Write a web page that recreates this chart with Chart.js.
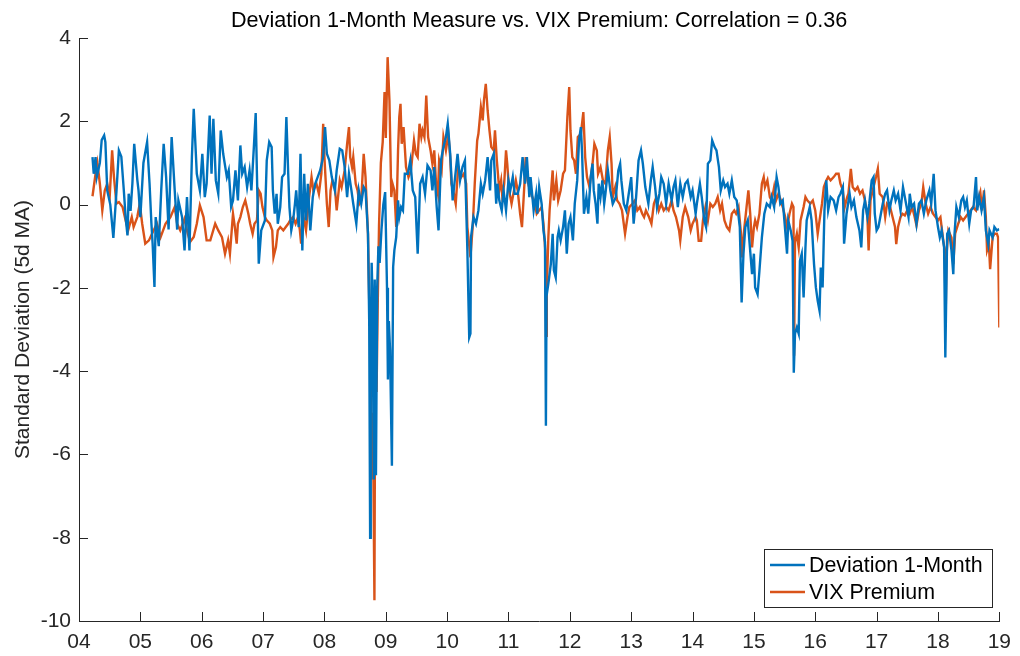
<style>body { margin: 0; }</style>
<script src="https://cdn.jsdelivr.net/npm/chart.js"></script>
<div style="width:1020px;height:656px">
    <canvas id="lineChart" width="1020" height="656"></canvas>
</div>

<script>
    const title = 'Deviation 1-Month Measure vs. VIX Premium: Correlation = 0.36'
    const yLabel = 'Standard Deviation (5d MA)'
    const seriesNames = ['Deviation 1-Month', 'VIX Premium']
    const xTicks = [4, 5, 6, 7, 8, 9, 10, 11, 12, 13, 14, 15, 16, 17, 18, 19]
    const yTicks = [-10, -8, -6, -4, -2, 0, 2, 4]

    // Deviation 1-Month (year since 2000, value)
    const devYears = [
        4.22, 4.24, 4.27, 4.29, 4.34, 4.37, 4.41, 4.43, 4.46, 4.51, 4.56, 4.61, 4.65, 4.69, 4.73, 4.76, 4.79, 4.81, 4.84, 4.87,
        4.9, 4.95, 4.97, 5.0, 5.05, 5.11, 5.15, 5.18, 5.2, 5.23, 5.25, 5.3, 5.34, 5.38, 5.42, 5.46, 5.51, 5.56, 5.6, 5.62,
        5.68, 5.72, 5.76, 5.8, 5.84, 5.87, 5.92, 5.97, 6.01, 6.05, 6.08, 6.13, 6.16, 6.19, 6.23, 6.27, 6.31, 6.35, 6.41, 6.44,
        6.48, 6.51, 6.55, 6.59, 6.63, 6.66, 6.7, 6.74, 6.78, 6.81, 6.85, 6.88, 6.9, 6.93, 6.97, 7.03, 7.06, 7.1, 7.14, 7.16,
        7.19, 7.22, 7.24, 7.28, 7.31, 7.35, 7.38, 7.41, 7.43, 7.46, 7.49, 7.52, 7.54, 7.58, 7.61, 7.64, 7.67, 7.7, 7.73, 7.77,
        7.81, 7.85, 7.89, 7.93, 7.98, 8.01, 8.04, 8.08, 8.12, 8.17, 8.2, 8.25, 8.29, 8.33, 8.37, 8.4, 8.44, 8.47, 8.52, 8.56,
        8.6, 8.64, 8.67, 8.71, 8.73, 8.745, 8.755, 8.77, 8.78, 8.795, 8.805, 8.82, 8.84, 8.86, 8.88, 8.9, 8.93, 8.96, 8.99, 9.02,
        9.035, 9.05, 9.07, 9.1, 9.12, 9.14, 9.17, 9.2, 9.22, 9.25, 9.28, 9.31, 9.36, 9.4, 9.44, 9.48, 9.52, 9.56, 9.6, 9.64,
        9.68, 9.73, 9.76, 9.79, 9.83, 9.86, 9.9, 9.94, 9.98, 10.01, 10.05, 10.09, 10.13, 10.17, 10.21, 10.25, 10.29, 10.33, 10.36, 10.38,
        10.39, 10.43, 10.47, 10.51, 10.55, 10.58, 10.62, 10.66, 10.7, 10.72, 10.76, 10.8, 10.82, 10.85, 10.89, 10.92, 10.96, 11.0, 11.03, 11.07,
        11.1, 11.15, 11.19, 11.23, 11.27, 11.3, 11.34, 11.36, 11.41, 11.45, 11.47, 11.5, 11.54, 11.57, 11.595, 11.61, 11.62, 11.65, 11.69, 11.72,
        11.74, 11.77, 11.8, 11.82, 11.85, 11.89, 11.92, 11.95, 11.98, 12.01, 12.05, 12.08, 12.12, 12.15, 12.18, 12.2, 12.23, 12.27, 12.3, 12.34,
        12.37, 12.39, 12.42, 12.45, 12.47, 12.5, 12.53, 12.56, 12.58, 12.62, 12.66, 12.7, 12.75, 12.79, 12.82, 12.84, 12.88, 12.92, 12.96, 13.0,
        13.04, 13.08, 13.12, 13.16, 13.19, 13.23, 13.28, 13.32, 13.35, 13.39, 13.42, 13.46, 13.49, 13.53, 13.57, 13.61, 13.66, 13.69, 13.72, 13.76,
        13.8, 13.84, 13.88, 13.92, 13.97, 14.0, 14.05, 14.07, 14.12, 14.15, 14.19, 14.22, 14.25, 14.29, 14.32, 14.36, 14.39, 14.43, 14.46, 14.5,
        14.53, 14.57, 14.6, 14.64, 14.68, 14.72, 14.77, 14.8, 14.83, 14.86, 14.9, 14.93, 14.97, 15.0, 15.02, 15.06, 15.09, 15.13, 15.17, 15.21,
        15.26, 15.29, 15.33, 15.37, 15.4, 15.43, 15.47, 15.51, 15.54, 15.56, 15.6, 15.63, 15.65, 15.67, 15.7, 15.73, 15.75, 15.78, 15.81, 15.84,
        15.86, 15.91, 15.94, 15.98, 16.01, 16.04, 16.07, 16.09, 16.12, 16.15, 16.18, 16.21, 16.25, 16.3, 16.34, 16.38, 16.41, 16.45, 16.47, 16.51,
        16.56, 16.59, 16.63, 16.67, 16.72, 16.75, 16.78, 16.81, 16.85, 16.88, 16.92, 16.95, 16.97, 17.0, 17.03, 17.06, 17.1, 17.14, 17.17, 17.21,
        17.24, 17.28, 17.31, 17.35, 17.39, 17.43, 17.48, 17.52, 17.54, 17.57, 17.61, 17.65, 17.69, 17.73, 17.77, 17.81, 17.86, 17.89, 17.93, 17.96,
        18.0, 18.03, 18.06, 18.1, 18.12, 18.15, 18.18, 18.22, 18.25, 18.27, 18.3, 18.34, 18.38, 18.41, 18.44, 18.47, 18.51, 18.54, 18.58, 18.62,
        18.64, 18.67, 18.71, 18.75, 18.78, 18.82, 18.84, 18.89, 18.92, 18.96, 19.0
    ]
    const devValues = [
        1.14, 0.74, 1.14, 0.66, 1.0, 1.55, 1.66, 1.5, 0.34, 0.0, -0.8, 0.3, 1.3, 1.15, 0.35, -0.3, -0.74, 0.26, -0.15, 0.5,
        1.46, 0.6, 0.34, -0.3, 1.0, 1.5, 0.5, -0.45, -0.94, -1.98, -0.3, -1.0, 0.34, 1.46, 0.66, -0.6, 1.62, 0.34, -0.6, 0.1,
        -0.3, -1.1, 0.18, -1.1, 1.14, 2.3, 0.74, 0.34, 1.22, 0.18, 0.5, 2.14, 0.74, 2.06, 0.58, 0.26, 1.78, 1.22, 0.66, 0.82,
        -0.05, 0.1, 0.82, 0.1, 1.42, 0.74, 0.9, 0.42, 0.82, 0.34, 1.38, 2.2, 0.74, -1.42, -0.62, -0.38, 1.06, 1.5, 1.38, 0.34,
        -0.22, 0.26, -0.46, -0.06, 0.66, 0.74, 2.1, 0.74, -0.06, -0.62, -0.38, 0.02, 0.34, -0.54, 1.22, -1.1, 0.74, -0.38, 0.5, -0.62,
        0.18, 0.5, 0.66, 0.82, 1.14, 1.86, 1.22, 1.06, 0.66, 0.34, 0.82, 1.34, 1.3, 0.9, 0.18, 0.74, 0.34, 0.02, -0.46, 0.34,
        0.02, 0.42, 0.34, -0.7, -2.8, -8.0, -3.5, -1.4, -2.0, -4.5, -6.6, -1.8, -6.5, -2.0, -1.0, -1.4, -0.6, 0.0, 0.3, -2.0,
        -4.2, -2.8, -3.5, -6.27, -1.5, -1.1, -0.78, 0.1, -0.3, -0.06, -0.14, 0.74, 0.74, 1.06, 0.34, 0.18, -1.18, 0.5, 0.66, 0.26,
        0.94, 0.82, 0.34, 0.9, -0.06, -0.62, 1.06, 1.38, 1.62, 1.94, 1.22, 0.1, 0.66, 1.22, 0.58, 0.9, 1.06, -1.1, -3.19, -3.1,
        -0.78, -0.3, -0.46, -0.14, 0.5, 0.26, 0.58, 1.14, 0.34, 1.06, 1.22, 0.02, 0.5, 0.1, -0.14, 0.34, -0.14, 0.58, 0.34, 0.66,
        0.26, 0.26, 0.5, 1.14, 0.5, 1.14, 0.18, 0.66, -0.14, 0.26, -0.22, 0.42, 0.02, -0.62, -0.9, -5.31, -2.2, -1.9, -1.43, -0.7,
        -1.58, -1.75, -0.78, -0.62, -0.86, -0.54, -0.14, -1.18, -0.46, -0.3, -0.86, 0.02, 0.58, 1.54, 1.86, 1.22, -0.22, 0.18, -0.22, 0.66,
        0.98, 0.34, 0.02, -0.46, 0.5, 0.18, 0.58, 0.02, 0.26, 0.82, 0.34, 0.02, 0.18, 0.82, 0.98, 0.58, 0.02, -0.14, 0.26, 0.66,
        -0.46, 0.18, 1.06, 1.3, 0.98, 0.42, 0.02, 0.58, 0.9, 0.42, -0.06, 0.26, 0.66, 0.5, 0.02, 0.5, 0.1, 0.42, 0.58, -0.06,
        0.5, 0.18, 0.5, 0.58, 0.18, 0.34, -0.22, 0.02, 0.5, 0.18, -0.38, -0.54, 0.98, 1.06, 1.54, 1.38, 1.3, 0.9, 0.34, 0.58,
        0.42, 0.5, 0.26, 0.58, 0.18, 0.1, -0.54, -2.35, -1.18, -0.54, -0.38, -0.94, -1.67, -1.18, -1.99, -2.15, -1.59, -0.79, -0.22, 0.02,
        -0.06, 0.18, -0.06, 0.66, 0.42, 0.02, 0.1, -0.62, -1.18, -0.38, -0.62, -0.87, -4.04, -3.1, -2.95, -3.1, -1.35, -1.18, -2.23, -1.03,
        -0.38, -0.06, -0.38, -1.43, -1.99, -2.31, -2.55, -1.51, -1.99, -0.14, 0.58, -0.14, 0.18, 0.1, -0.14, 0.18, 0.26, 0.42, -0.94, -0.22,
        0.26, -0.06, 0.1, -0.3, -0.62, -1.03, -0.14, 0.1, -0.3, 0.02, 0.58, 0.66, -0.22, -0.62, -0.54, -0.3, 0.02, 0.26, 0.34, -0.14,
        0.1, 0.34, 0.1, 0.26, -0.14, 0.42, 0.02, -0.3, 0.26, -0.06, 0.02, -0.46, 0.02, 0.1, -0.22, 0.1, 0.34, 0.02, 0.74, -0.14,
        -0.54, -0.79, -0.62, -1.03, -3.67, -0.7, -0.62, -1.1, -1.67, -0.7, -0.06, -0.3, 0.1, 0.18, -0.06, 0.1, -0.46, -0.14, -0.06, 0.66,
        -0.14, 0.18, -0.14, 0.18, -0.62, -0.95, -0.62, -0.79, -0.54, -0.62, -0.59
    ]

    // VIX Premium (year since 2000, value)
    const vixYears = [
        4.22, 4.27, 4.3, 4.34, 4.38, 4.42, 4.46, 4.5, 4.54, 4.57, 4.61, 4.65, 4.71, 4.76, 4.8, 4.86, 4.89, 4.95, 4.99, 5.03,
        5.08, 5.14, 5.19, 5.27, 5.33, 5.41, 5.49, 5.56, 5.6, 5.65, 5.72, 5.76, 5.81, 5.87, 5.92, 5.97, 6.03, 6.08, 6.14, 6.22,
        6.27, 6.33, 6.38, 6.43, 6.46, 6.51, 6.54, 6.57, 6.59, 6.63, 6.67, 6.71, 6.76, 6.79, 6.83, 6.86, 6.9, 6.93, 6.96, 6.99,
        7.03, 7.06, 7.11, 7.15, 7.17, 7.21, 7.24, 7.28, 7.33, 7.37, 7.41, 7.44, 7.49, 7.53, 7.57, 7.6, 7.62, 7.66, 7.7, 7.75,
        7.79, 7.82, 7.87, 7.91, 7.95, 7.98, 8.0, 8.04, 8.07, 8.1, 8.13, 8.17, 8.2, 8.25, 8.28, 8.33, 8.37, 8.4, 8.42, 8.45,
        8.47, 8.51, 8.54, 8.57, 8.6, 8.64, 8.67, 8.71, 8.73, 8.75, 8.77, 8.79, 8.8, 8.815, 8.83, 8.85, 8.87, 8.89, 8.92, 8.95,
        8.98, 9.0, 9.03, 9.06, 9.09, 9.11, 9.14, 9.17, 9.2, 9.22, 9.24, 9.26, 9.29, 9.33, 9.37, 9.41, 9.46, 9.49, 9.52, 9.55,
        9.58, 9.6, 9.63, 9.66, 9.69, 9.73, 9.76, 9.79, 9.82, 9.85, 9.87, 9.91, 9.94, 9.98, 10.02, 10.05, 10.07, 10.11, 10.14, 10.18,
        10.23, 10.27, 10.31, 10.33, 10.38, 10.42, 10.45, 10.49, 10.51, 10.55, 10.58, 10.6, 10.63, 10.66, 10.69, 10.72, 10.76, 10.78, 10.81, 10.85,
        10.88, 10.9, 10.93, 10.96, 10.98, 11.01, 11.05, 11.09, 11.12, 11.15, 11.19, 11.22, 11.26, 11.28, 11.31, 11.35, 11.39, 11.43, 11.46, 11.5,
        11.54, 11.57, 11.6, 11.612, 11.625, 11.65, 11.67, 11.72, 11.74, 11.78, 11.81, 11.85, 11.89, 11.92, 11.96, 11.99, 12.01, 12.04, 12.07, 12.1,
        12.13, 12.18, 12.22, 12.25, 12.28, 12.32, 12.37, 12.4, 12.44, 12.46, 12.5, 12.54, 12.58, 12.62, 12.65, 12.68, 12.7, 12.74, 12.77, 12.81,
        12.85, 12.9, 12.94, 12.97, 13.02, 13.06, 13.1, 13.14, 13.18, 13.21, 13.24, 13.29, 13.33, 13.37, 13.41, 13.45, 13.49, 13.53, 13.57, 13.61,
        13.66, 13.69, 13.73, 13.78, 13.8, 13.84, 13.88, 13.93, 13.97, 14.0, 14.05, 14.07, 14.1, 14.14, 14.17, 14.21, 14.25, 14.29, 14.33, 14.37,
        14.41, 14.45, 14.48, 14.52, 14.56, 14.6, 14.64, 14.68, 14.71, 14.75, 14.79, 14.81, 14.84, 14.88, 14.91, 14.94, 14.97, 15.0, 15.02, 15.05,
        15.09, 15.13, 15.16, 15.18, 15.22, 15.26, 15.29, 15.33, 15.36, 15.4, 15.44, 15.47, 15.51, 15.54, 15.58, 15.62, 15.645, 15.655, 15.67, 15.7,
        15.73, 15.76, 15.81, 15.84, 15.87, 15.92, 15.96, 16.0, 16.04, 16.07, 16.11, 16.14, 16.18, 16.21, 16.25, 16.3, 16.34, 16.38, 16.41, 16.45,
        16.48, 16.52, 16.54, 16.58, 16.61, 16.65, 16.69, 16.73, 16.77, 16.81, 16.85, 16.87, 16.9, 16.95, 16.99, 17.02, 17.05, 17.1, 17.14, 17.17,
        17.22, 17.26, 17.3, 17.32, 17.35, 17.39, 17.42, 17.46, 17.5, 17.54, 17.58, 17.62, 17.65, 17.69, 17.73, 17.76, 17.8, 17.84, 17.88, 17.92,
        17.96, 18.0, 18.04, 18.08, 18.11, 18.125, 18.14, 18.17, 18.22, 18.25, 18.28, 18.33, 18.37, 18.41, 18.45, 18.49, 18.53, 18.57, 18.62, 18.65,
        18.69, 18.72, 18.75, 18.78, 18.8, 18.83, 18.85, 18.89, 18.92, 18.96, 18.98, 19.0
    ]
    const vixValues = [
        0.2, 0.74, 1.0, 0.5, -0.14, 0.34, 0.5, 0.18, 1.3, 0.66, 0.02, 0.06, -0.06, -0.38, -0.62, -0.3, -0.54, -0.3, 0.02, -0.46,
        -0.94, -0.86, -0.7, -0.46, -0.78, -0.46, -0.3, -0.06, -0.46, -0.62, -0.34, -0.62, -0.9, -0.78, -0.46, -0.02, -0.3, -0.86, -0.86, -0.46,
        -0.62, -0.78, -1.18, -0.86, -1.18, -0.22, -0.54, -0.94, -0.46, -0.3, -0.06, 0.1, -0.22, -0.46, -0.7, -0.46, -0.38, 0.34, 0.26, -0.06,
        -0.3, -0.38, -0.46, -0.62, -1.26, -1.02, -0.62, -0.54, -0.62, -0.54, -0.46, -0.38, -0.3, -0.46, -0.3, -0.62, -0.94, -0.3, -0.62, 0.18,
        0.66, 0.34, 0.5, 0.26, 0.74, 1.94, 1.14, 0.02, -0.54, 0.34, 0.58, 0.42, -0.14, 0.58, 0.42, 0.82, 1.46, 1.86, 1.14, 0.9,
        1.14, 0.5, 0.34, 0.02, 0.1, 1.22, 0.66, -0.7, -2.3, -3.0, -6.6, -5.0, -6.8, -9.5, -2.5, -4.5, -2.3, -0.5, 1.0, 1.5,
        2.7, 1.6, 3.54, 2.5, 0.18, 0.5, 0.34, -0.54, 1.3, 2.1, 2.42, 1.46, 1.86, 0.9, 0.66, 0.82, 1.54, 1.22, 1.14, 1.94,
        1.62, 1.78, 1.62, 2.62, 1.62, 1.3, 0.98, 1.3, 0.5, 0.26, 1.06, 0.82, 1.62, 1.3, 1.7, 1.14, 0.5, 0.26, 0.02, 0.9,
        0.66, 0.74, 0.5, -0.54, -1.27, -0.46, 0.5, 1.54, 1.7, 2.34, 2.02, 2.5, 2.9, 2.26, 1.78, 1.38, 1.3, 1.78, 1.06, 0.34,
        0.58, 0.18, 0.5, 1.3, 0.98, 0.34, 0.02, 0.34, 0.58, 0.34, -0.22, -0.54, 0.5, 1.14, 0.58, 0.34, 0.18, 0.02, -0.22, -0.14,
        -0.06, -0.46, -1.1, -3.15, -2.0, -0.78, -0.14, 0.82, 0.1, 0.58, 0.1, 0.34, 0.74, 0.82, 2.1, 2.82, 1.78, 1.14, 1.06, 0.74,
        1.62, 1.7, 2.22, 1.14, 0.66, 0.42, 0.98, 1.46, 1.3, 0.74, 0.9, 0.58, 0.5, 1.3, 1.62, 0.98, 0.18, 0.42, 0.1, 0.02,
        -0.14, -0.7, -0.3, -0.06, 0.02, 0.1, -0.14, -0.06, -0.22, -0.3, -0.14, -0.3, -0.46, 0.02, 0.18, -0.14, 0.02, -0.14, -0.06, -0.14,
        0.1, -0.14, -0.3, -0.62, -0.86, -0.3, -0.06, -0.3, -0.62, -0.46, -0.3, -0.38, -0.87, -0.87, -0.38, -0.06, -0.38, 0.02, -0.06, 0.02,
        0.18, -0.14, 0.02, -0.38, -0.54, -0.62, -0.22, -0.14, -0.22, -0.06, -0.7, -1.27, -0.62, -0.06, 0.34, -0.22, -1.03, -0.54, -0.38, -0.54,
        -0.22, 0.5, 0.66, 0.42, 0.58, 0.18, 0.1, 0.42, 0.1, 0.26, 0.1, -0.06, -0.3, -0.54, -0.22, 0.02, -0.06, -3.63, -0.9, -0.7,
        -1.03, -0.38, -0.06, 0.18, 0.1, 0.02, 0.1, -0.14, -0.7, -0.38, 0.02, 0.42, 0.58, 0.66, 0.58, 0.66, 0.74, 0.74, 0.5, 0.34,
        -0.06, 0.18, 0.26, 0.86, 0.42, 0.34, 0.42, 0.26, 0.34, 0.1, -0.3, -1.1, 0.1, 0.42, 0.66, 0.86, 0.26, 0.18, -0.3, 0.02,
        -0.06, -0.3, -0.54, -0.95, -0.54, -0.3, -0.22, -0.26, -0.14, -0.22, -0.06, -0.3, -0.5, -0.14, 0.02, 0.42, 0.02, -0.22, -0.06, -0.22,
        -0.3, -0.38, -0.3, -0.79, -1.1, -2.71, -1.19, -0.62, -0.79, -1.43, -0.7, -0.46, -0.3, -0.38, -0.3, -0.22, -0.14, -0.06, -0.14, 0.1,
        0.3, -0.14, 0.34, -0.3, -1.1, -0.95, -1.55, -0.79, -0.7, -0.7, -0.79, -2.95
    ]

    const blue = '#0072BD'
    const orange = '#D95319'
    const axisColor = '#262626'
    const fontFamily = '"Liberation Sans", Arial, Helvetica, sans-serif'

    Chart.defaults.font.family = fontFamily
    Chart.defaults.font.size = 21
    Chart.defaults.color = axisColor

    function toPoints(xs, ys) {
        return xs.map((x, i) => ({x: x, y: ys[i]}))
    }

    // matlab style: inward ticks, title, boxed legend
    const matlabPlugin = {
        id: 'matlab',
        afterDraw(chart) {
            const ctx = chart.ctx
            const area = chart.chartArea
            const xs = chart.scales.x
            const ys = chart.scales.y
            ctx.save()
            ctx.strokeStyle = axisColor
            ctx.lineWidth = 1
            ctx.beginPath()
            yTicks.forEach(v => {
                const py = Math.round(ys.getPixelForValue(v)) + 0.5
                ctx.moveTo(area.left, py)
                ctx.lineTo(area.left + 9, py)
            })
            xTicks.forEach(v => {
                const px = Math.round(xs.getPixelForValue(v)) + 0.5
                ctx.moveTo(px, area.bottom)
                ctx.lineTo(px, area.bottom - 9)
            })
            ctx.stroke()

            ctx.fillStyle = '#000'
            ctx.font = '21.6px ' + fontFamily
            ctx.textAlign = 'center'
            ctx.textBaseline = 'middle'
            ctx.fillText(title, (area.left + area.right) / 2, 21)

            // legend
            const lx = 764.5, ly = 549.5, lw = 228, lh = 58
            ctx.fillStyle = '#fff'
            ctx.fillRect(lx, ly, lw, lh)
            ctx.strokeStyle = axisColor
            ctx.strokeRect(lx, ly, lw, lh)
            ctx.font = '21.4px ' + fontFamily
            const colors = [blue, orange]
            seriesNames.forEach((name, i) => {
                const yy = 565 + i * 27
                ctx.strokeStyle = colors[i]
                ctx.lineWidth = 2.4
                ctx.beginPath()
                ctx.moveTo(770, yy)
                ctx.lineTo(805, yy)
                ctx.stroke()
                ctx.fillStyle = '#000'
                ctx.textAlign = 'left'
                ctx.fillText(name, 809, yy + 1)
            })
            ctx.restore()
        }
    }

    const ctx = document.getElementById('lineChart').getContext('2d')

    new Chart(ctx, {
        type: 'line',
        data: {
            datasets: [{
                label: seriesNames[0],
                data: toPoints(devYears, devValues),
                borderColor: blue,
                borderWidth: 2.4,
                pointRadius: 0,
                tension: 0
            }, {
                label: seriesNames[1],
                data: toPoints(vixYears, vixValues),
                borderColor: orange,
                borderWidth: 2.4,
                pointRadius: 0,
                tension: 0
            }]
        },
        options: {
            responsive: false,
            animation: false,
            layout: {padding: {top: 38, right: 16, left: 0, bottom: 0}},
            plugins: {
                legend: {display: false},
                title: {display: false},
                tooltip: {enabled: false}
            },
            scales: {
                x: {
                    type: 'linear',
                    min: 4,
                    max: 19,
                    afterBuildTicks: s => { s.ticks = xTicks.map(v => ({value: v})) },
                    afterFit: s => { s.height = 35 },
                    grid: {display: false, drawTicks: false},
                    border: {color: axisColor, width: 1},
                    ticks: {
                        autoSkip: false,
                        maxRotation: 0,
                        padding: 9,
                        callback: v => String(v).padStart(2, '0')
                    }
                },
                y: {
                    min: -10,
                    max: 4,
                    afterBuildTicks: s => { s.ticks = yTicks.map(v => ({value: v})) },
                    afterFit: s => { s.width = 79 },
                    grid: {display: false, drawTicks: false},
                    border: {color: axisColor, width: 1},
                    ticks: {padding: 8},
                    title: {
                        display: true,
                        text: yLabel,
                        padding: {top: 11, bottom: 0},
                        font: {size: 21}
                    }
                }
            }
        },
        plugins: [matlabPlugin]
    })
</script>
